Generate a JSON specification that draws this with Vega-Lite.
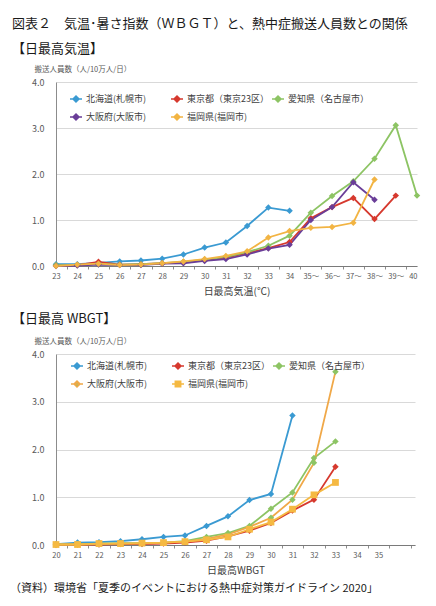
{
  "$schema": "https://vega.github.io/schema/vega-lite/v6.json",
  "padding": {"left": 10, "top": 18, "right": 5, "bottom": 5},
  "bounds": "flush",
  "spacing": 88,
  "title": {
    "text": "（資料）環境省「夏季のイベントにおける熱中症対策ガイドライン 2020」",
    "orient": "bottom",
    "anchor": "start",
    "frame": "group",
    "dx": -46,
    "fontSize": 11,
    "offset": 7
  },
  "datasets": {
    "top": [
      {"s": "北海道(札幌市)", "t": 23, "v": 0.04}, {"s": "北海道(札幌市)", "t": 24, "v": 0.04},
      {"s": "北海道(札幌市)", "t": 25, "v": 0.07}, {"s": "北海道(札幌市)", "t": 26, "v": 0.10},
      {"s": "北海道(札幌市)", "t": 27, "v": 0.12}, {"s": "北海道(札幌市)", "t": 28, "v": 0.16},
      {"s": "北海道(札幌市)", "t": 29, "v": 0.25}, {"s": "北海道(札幌市)", "t": 30, "v": 0.40},
      {"s": "北海道(札幌市)", "t": 31, "v": 0.51}, {"s": "北海道(札幌市)", "t": 32, "v": 0.87},
      {"s": "北海道(札幌市)", "t": 33, "v": 1.27}, {"s": "北海道(札幌市)", "t": 34, "v": 1.20},
      {"s": "東京都（東京23区）", "t": 23, "v": 0.01}, {"s": "東京都（東京23区）", "t": 24, "v": 0.02},
      {"s": "東京都（東京23区）", "t": 25, "v": 0.09}, {"s": "東京都（東京23区）", "t": 26, "v": 0.03},
      {"s": "東京都（東京23区）", "t": 27, "v": 0.04}, {"s": "東京都（東京23区）", "t": 28, "v": 0.06},
      {"s": "東京都（東京23区）", "t": 29, "v": 0.08}, {"s": "東京都（東京23区）", "t": 30, "v": 0.13},
      {"s": "東京都（東京23区）", "t": 31, "v": 0.18}, {"s": "東京都（東京23区）", "t": 32, "v": 0.28},
      {"s": "東京都（東京23区）", "t": 33, "v": 0.39}, {"s": "東京都（東京23区）", "t": 34, "v": 0.52},
      {"s": "東京都（東京23区）", "t": 35, "v": 1.04}, {"s": "東京都（東京23区）", "t": 36, "v": 1.28},
      {"s": "東京都（東京23区）", "t": 37, "v": 1.48}, {"s": "東京都（東京23区）", "t": 38, "v": 1.02},
      {"s": "東京都（東京23区）", "t": 39, "v": 1.53},
      {"s": "愛知県（名古屋市）", "t": 23, "v": 0.02}, {"s": "愛知県（名古屋市）", "t": 24, "v": 0.02},
      {"s": "愛知県（名古屋市）", "t": 25, "v": 0.04}, {"s": "愛知県（名古屋市）", "t": 26, "v": 0.03},
      {"s": "愛知県（名古屋市）", "t": 27, "v": 0.04}, {"s": "愛知県（名古屋市）", "t": 28, "v": 0.06},
      {"s": "愛知県（名古屋市）", "t": 29, "v": 0.09}, {"s": "愛知県（名古屋市）", "t": 30, "v": 0.14},
      {"s": "愛知県（名古屋市）", "t": 31, "v": 0.20}, {"s": "愛知県（名古屋市）", "t": 32, "v": 0.30},
      {"s": "愛知県（名古屋市）", "t": 33, "v": 0.44}, {"s": "愛知県（名古屋市）", "t": 34, "v": 0.66},
      {"s": "愛知県（名古屋市）", "t": 35, "v": 1.16}, {"s": "愛知県（名古屋市）", "t": 36, "v": 1.52},
      {"s": "愛知県（名古屋市）", "t": 37, "v": 1.84}, {"s": "愛知県（名古屋市）", "t": 38, "v": 2.33},
      {"s": "愛知県（名古屋市）", "t": 39, "v": 3.06}, {"s": "愛知県（名古屋市）", "t": 40, "v": 1.53},
      {"s": "大阪府(大阪市)", "t": 23, "v": 0.00}, {"s": "大阪府(大阪市)", "t": 24, "v": 0.01},
      {"s": "大阪府(大阪市)", "t": 25, "v": 0.03}, {"s": "大阪府(大阪市)", "t": 26, "v": 0.02},
      {"s": "大阪府(大阪市)", "t": 27, "v": 0.02}, {"s": "大阪府(大阪市)", "t": 28, "v": 0.05},
      {"s": "大阪府(大阪市)", "t": 29, "v": 0.06}, {"s": "大阪府(大阪市)", "t": 30, "v": 0.11},
      {"s": "大阪府(大阪市)", "t": 31, "v": 0.15}, {"s": "大阪府(大阪市)", "t": 32, "v": 0.25},
      {"s": "大阪府(大阪市)", "t": 33, "v": 0.38}, {"s": "大阪府(大阪市)", "t": 34, "v": 0.46},
      {"s": "大阪府(大阪市)", "t": 35, "v": 1.00}, {"s": "大阪府(大阪市)", "t": 36, "v": 1.28},
      {"s": "大阪府(大阪市)", "t": 37, "v": 1.82}, {"s": "大阪府(大阪市)", "t": 38, "v": 1.44},
      {"s": "福岡県(福岡市)", "t": 23, "v": 0.00}, {"s": "福岡県(福岡市)", "t": 24, "v": 0.03},
      {"s": "福岡県(福岡市)", "t": 25, "v": 0.05}, {"s": "福岡県(福岡市)", "t": 26, "v": 0.02},
      {"s": "福岡県(福岡市)", "t": 27, "v": 0.03}, {"s": "福岡県(福岡市)", "t": 28, "v": 0.06},
      {"s": "福岡県(福岡市)", "t": 29, "v": 0.10}, {"s": "福岡県(福岡市)", "t": 30, "v": 0.15},
      {"s": "福岡県(福岡市)", "t": 31, "v": 0.22}, {"s": "福岡県(福岡市)", "t": 32, "v": 0.32},
      {"s": "福岡県(福岡市)", "t": 33, "v": 0.62}, {"s": "福岡県(福岡市)", "t": 34, "v": 0.76},
      {"s": "福岡県(福岡市)", "t": 35, "v": 0.83}, {"s": "福岡県(福岡市)", "t": 36, "v": 0.85},
      {"s": "福岡県(福岡市)", "t": 37, "v": 0.94}, {"s": "福岡県(福岡市)", "t": 38, "v": 1.88}
    ],
    "bottom": [
      {"s": "北海道(札幌市)", "t": 20, "v": 0.02}, {"s": "北海道(札幌市)", "t": 21, "v": 0.05},
      {"s": "北海道(札幌市)", "t": 22, "v": 0.06}, {"s": "北海道(札幌市)", "t": 23, "v": 0.08},
      {"s": "北海道(札幌市)", "t": 24, "v": 0.12}, {"s": "北海道(札幌市)", "t": 25, "v": 0.17},
      {"s": "北海道(札幌市)", "t": 26, "v": 0.20}, {"s": "北海道(札幌市)", "t": 27, "v": 0.40},
      {"s": "北海道(札幌市)", "t": 28, "v": 0.60}, {"s": "北海道(札幌市)", "t": 29, "v": 0.94},
      {"s": "北海道(札幌市)", "t": 30, "v": 1.07}, {"s": "北海道(札幌市)", "t": 31, "v": 2.71},
      {"s": "東京都（東京23区）", "t": 20, "v": 0.00}, {"s": "東京都（東京23区）", "t": 21, "v": 0.01},
      {"s": "東京都（東京23区）", "t": 22, "v": 0.01}, {"s": "東京都（東京23区）", "t": 23, "v": 0.02},
      {"s": "東京都（東京23区）", "t": 24, "v": 0.02}, {"s": "東京都（東京23区）", "t": 25, "v": 0.03},
      {"s": "東京都（東京23区）", "t": 26, "v": 0.05}, {"s": "東京都（東京23区）", "t": 27, "v": 0.09},
      {"s": "東京都（東京23区）", "t": 28, "v": 0.18}, {"s": "東京都（東京23区）", "t": 29, "v": 0.30},
      {"s": "東京都（東京23区）", "t": 30, "v": 0.46}, {"s": "東京都（東京23区）", "t": 31, "v": 0.72},
      {"s": "東京都（東京23区）", "t": 32, "v": 0.95}, {"s": "東京都（東京23区）", "t": 33, "v": 1.64},
      {"s": "愛知県（名古屋市）", "t": 20, "v": 0.01}, {"s": "愛知県（名古屋市）", "t": 21, "v": 0.02},
      {"s": "愛知県（名古屋市）", "t": 22, "v": 0.03}, {"s": "愛知県（名古屋市）", "t": 23, "v": 0.04},
      {"s": "愛知県（名古屋市）", "t": 24, "v": 0.04}, {"s": "愛知県（名古屋市）", "t": 25, "v": 0.05},
      {"s": "愛知県（名古屋市）", "t": 26, "v": 0.08}, {"s": "愛知県（名古屋市）", "t": 27, "v": 0.17},
      {"s": "愛知県（名古屋市）", "t": 28, "v": 0.25}, {"s": "愛知県（名古屋市）", "t": 29, "v": 0.40},
      {"s": "愛知県（名古屋市）", "t": 30, "v": 0.76}, {"s": "愛知県（名古屋市）", "t": 31, "v": 1.10},
      {"s": "愛知県（名古屋市）", "t": 32, "v": 1.82}, {"s": "愛知県（名古屋市）", "t": 33, "v": 2.17},
      {"s": "大阪府(大阪市)", "t": 20, "v": 0.01}, {"s": "大阪府(大阪市)", "t": 21, "v": 0.01},
      {"s": "大阪府(大阪市)", "t": 22, "v": 0.02}, {"s": "大阪府(大阪市)", "t": 23, "v": 0.03},
      {"s": "大阪府(大阪市)", "t": 24, "v": 0.03}, {"s": "大阪府(大阪市)", "t": 25, "v": 0.05},
      {"s": "大阪府(大阪市)", "t": 26, "v": 0.07}, {"s": "大阪府(大阪市)", "t": 27, "v": 0.13},
      {"s": "大阪府(大阪市)", "t": 28, "v": 0.22}, {"s": "大阪府(大阪市)", "t": 29, "v": 0.38},
      {"s": "大阪府(大阪市)", "t": 30, "v": 0.57}, {"s": "大阪府(大阪市)", "t": 31, "v": 0.95},
      {"s": "大阪府(大阪市)", "t": 32, "v": 1.72}, {"s": "大阪府(大阪市)", "t": 33, "v": 3.63},
      {"s": "福岡県(福岡市)", "t": 20, "v": 0.01}, {"s": "福岡県(福岡市)", "t": 21, "v": 0.01},
      {"s": "福岡県(福岡市)", "t": 22, "v": 0.03}, {"s": "福岡県(福岡市)", "t": 23, "v": 0.03},
      {"s": "福岡県(福岡市)", "t": 24, "v": 0.04}, {"s": "福岡県(福岡市)", "t": 25, "v": 0.05},
      {"s": "福岡県(福岡市)", "t": 26, "v": 0.07}, {"s": "福岡県(福岡市)", "t": 27, "v": 0.11},
      {"s": "福岡県(福岡市)", "t": 28, "v": 0.17}, {"s": "福岡県(福岡市)", "t": 29, "v": 0.33},
      {"s": "福岡県(福岡市)", "t": 30, "v": 0.48}, {"s": "福岡県(福岡市)", "t": 31, "v": 0.75},
      {"s": "福岡県(福岡市)", "t": 32, "v": 1.05}, {"s": "福岡県(福岡市)", "t": 33, "v": 1.31}
    ]
  },
  "resolve": {
    "scale": {"stroke": "independent", "fill": "independent", "shape": "independent"},
    "legend": {"stroke": "independent", "fill": "independent", "shape": "independent"}
  },
  "vconcat": [
    {
      "title": {
        "text": "図表２　気温･暑さ指数（ＷＢＧＴ）と、熱中症搬送人員数との関係",
        "subtitle": "【日最高気温】",
        "dx": -44,
        "subtitleFontSize": 13,
        "subtitleColor": "#1a1a1a",
        "subtitlePadding": 12,
        "offset": 9
      },
      "width": 361,
      "height": 184,
      "data": {"name": "top"},
      "encoding": {
        "x": {
          "field": "t",
          "type": "quantitative",
          "scale": {"domain": [23, 40], "nice": false, "zero": false},
          "axis": {
            "title": "日最高気温(℃)",
            "values": [23, 23.5, 24, 24.5, 25, 25.5, 26, 26.5, 27, 27.5, 28, 28.5, 29, 29.5, 30, 30.5, 31, 31.5, 32, 32.5, 33, 33.5, 34, 34.5, 35, 35.5, 36, 36.5, 37, 37.5, 38, 38.5, 39, 39.5, 40],
            "labelExpr": "datum.value % 1 != 0 ? '' : (datum.value >= 35 && datum.value <= 39 ? datum.value + '～' : '' + datum.value)",
            "tickOpacity": {"condition": {"test": "datum.value % 1 == 0", "value": 0}, "value": 1},
            "labelAlign": {"condition": {"test": "datum.value == 40", "value": "right"}, "value": "center"}
          }
        },
        "y": {
          "field": "v",
          "type": "quantitative",
          "scale": {"domain": [0, 4], "nice": false},
          "axis": {"title": "搬送人員数（人/10万人/日）"}
        }
      },
      "layer": [
        {
          "transform": [{"filter": "false"}],
          "mark": {"type": "point", "filled": true, "opacity": 1},
          "encoding": {
            "stroke": {
              "field": "s",
              "type": "nominal",
              "scale": {
                "domain": ["北海道(札幌市)", "東京都（東京23区）", "愛知県（名古屋市）", "大阪府(大阪市)", "福岡県(福岡市)"],
                "range": ["#3a9ad2", "#d6392e", "#8dc464", "#6a3e98", "#f2b443"]
              },
              "legend": {"orient": "none", "legendX": 13, "legendY": 10}
            },
            "fill": {
              "field": "s",
              "type": "nominal",
              "scale": {
                "domain": ["北海道(札幌市)", "東京都（東京23区）", "愛知県（名古屋市）", "大阪府(大阪市)", "福岡県(福岡市)"],
                "range": ["#3a9ad2", "#d6392e", "#8dc464", "#6a3e98", "#f2b443"]
              },
              "legend": {"orient": "none", "legendX": 13, "legendY": 10}
            },
            "shape": {
              "field": "s",
              "type": "nominal",
              "scale": {
                "domain": ["北海道(札幌市)", "東京都（東京23区）", "愛知県（名古屋市）", "大阪府(大阪市)", "福岡県(福岡市)"],
                "range": [
                  "M-1,0L1,0M0,-0.5L0.5,0L0,0.5L-0.5,0Z",
                  "M-1,0L1,0M0,-0.5L0.5,0L0,0.5L-0.5,0Z",
                  "M-1,0L1,0M0,-0.5L0.5,0L0,0.5L-0.5,0Z",
                  "M-1,0L1,0M0,-0.5L0.5,0L0,0.5L-0.5,0Z",
                  "M-1,0L1,0M0,-0.5L0.5,0L0,0.5L-0.5,0Z"
                ]
              },
              "legend": {"orient": "none", "legendX": 13, "legendY": 10}
            }
          }
        },
        {
          "mark": {"type": "line", "strokeWidth": 1.8},
          "encoding": {
            "stroke": {
              "field": "s",
              "type": "nominal",
              "scale": {
                "domain": ["北海道(札幌市)", "東京都（東京23区）", "愛知県（名古屋市）", "大阪府(大阪市)", "福岡県(福岡市)"],
                "range": ["#3a9ad2", "#d6392e", "#8dc464", "#6a3e98", "#f2b443"]
              },
              "legend": null
            }
          }
        },
        {
          "mark": {"type": "point", "filled": true, "shape": "diamond", "size": 42, "opacity": 1},
          "encoding": {
            "fill": {
              "field": "s",
              "type": "nominal",
              "scale": {
                "domain": ["北海道(札幌市)", "東京都（東京23区）", "愛知県（名古屋市）", "大阪府(大阪市)", "福岡県(福岡市)"],
                "range": ["#3a9ad2", "#d6392e", "#8dc464", "#6a3e98", "#f2b443"]
              },
              "legend": null
            }
          }
        }
      ]
    },
    {
      "title": {"text": "【日最高 WBGT】", "dx": -44, "offset": 11},
      "width": 359,
      "height": 191,
      "data": {"name": "bottom"},
      "encoding": {
        "x": {
          "field": "t",
          "type": "quantitative",
          "scale": {"domain": [20, 36.7], "nice": false, "zero": false},
          "axis": {
            "title": "日最高WBGT",
            "values": [20, 20.5, 21, 21.5, 22, 22.5, 23, 23.5, 24, 24.5, 25, 25.5, 26, 26.5, 27, 27.5, 28, 28.5, 29, 29.5, 30, 30.5, 31, 31.5, 32, 32.5, 33, 33.5, 34, 34.5, 35, 35.5, 36, 36.5],
            "labelExpr": "datum.value % 1 != 0 || datum.value > 35 ? '' : '' + datum.value",
            "tickOpacity": {"condition": {"test": "datum.value % 1 == 0", "value": 0}, "value": 1}
          }
        },
        "y": {
          "field": "v",
          "type": "quantitative",
          "scale": {"domain": [0, 4], "nice": false},
          "axis": {"title": "搬送人員数（人/10万人/日）"}
        }
      },
      "layer": [
        {
          "transform": [{"filter": "false"}],
          "mark": {"type": "point", "filled": true, "opacity": 1},
          "encoding": {
            "stroke": {
              "field": "s",
              "type": "nominal",
              "scale": {
                "domain": ["北海道(札幌市)", "東京都（東京23区）", "愛知県（名古屋市）", "大阪府(大阪市)", "福岡県(福岡市)"],
                "range": ["#3a9ad2", "#d6392e", "#8dc464", "#f0a848", "#f5b942"]
              },
              "legend": {"orient": "none", "legendX": 14, "legendY": 5}
            },
            "fill": {
              "field": "s",
              "type": "nominal",
              "scale": {
                "domain": ["北海道(札幌市)", "東京都（東京23区）", "愛知県（名古屋市）", "大阪府(大阪市)", "福岡県(福岡市)"],
                "range": ["#3a9ad2", "#d6392e", "#8dc464", "#8dc464", "#f5b942"]
              },
              "legend": {"orient": "none", "legendX": 14, "legendY": 5}
            },
            "shape": {
              "field": "s",
              "type": "nominal",
              "scale": {
                "domain": ["北海道(札幌市)", "東京都（東京23区）", "愛知県（名古屋市）", "大阪府(大阪市)", "福岡県(福岡市)"],
                "range": [
                  "M-1,0L1,0M0,-0.5L0.5,0L0,0.5L-0.5,0Z",
                  "M-1,0L1,0M0,-0.5L0.5,0L0,0.5L-0.5,0Z",
                  "M-1,0L1,0M0,-0.5L0.5,0L0,0.5L-0.5,0Z",
                  "M-1,0L1,0M0,-0.5L0.5,0L0,0.5L-0.5,0Z",
                  "M-1,0L1,0M-0.45,-0.45L0.45,-0.45L0.45,0.45L-0.45,0.45Z"
                ]
              },
              "legend": {"orient": "none", "legendX": 14, "legendY": 5}
            }
          }
        },
        {
          "mark": {"type": "line", "strokeWidth": 1.8},
          "encoding": {
            "stroke": {
              "field": "s",
              "type": "nominal",
              "scale": {
                "domain": ["北海道(札幌市)", "東京都（東京23区）", "愛知県（名古屋市）", "大阪府(大阪市)", "福岡県(福岡市)"],
                "range": ["#3a9ad2", "#d6392e", "#8dc464", "#f0a848", "#f5b942"]
              },
              "legend": null
            }
          }
        },
        {
          "transform": [{"filter": "datum.s != '福岡県(福岡市)'"}],
          "mark": {"type": "point", "filled": true, "shape": "diamond", "size": 42, "opacity": 1},
          "encoding": {
            "fill": {
              "field": "s",
              "type": "nominal",
              "scale": {
                "domain": ["北海道(札幌市)", "東京都（東京23区）", "愛知県（名古屋市）", "大阪府(大阪市)", "福岡県(福岡市)"],
                "range": ["#3a9ad2", "#d6392e", "#8dc464", "#8dc464", "#f5b942"]
              },
              "legend": null
            }
          }
        },
        {
          "transform": [{"filter": "datum.s == '福岡県(福岡市)'"}],
          "mark": {"type": "point", "filled": true, "shape": "square", "size": 46, "opacity": 1},
          "encoding": {
            "fill": {
              "field": "s",
              "type": "nominal",
              "scale": {
                "domain": ["北海道(札幌市)", "東京都（東京23区）", "愛知県（名古屋市）", "大阪府(大阪市)", "福岡県(福岡市)"],
                "range": ["#3a9ad2", "#d6392e", "#8dc464", "#8dc464", "#f5b942"]
              },
              "legend": null
            }
          }
        }
      ]
    }
  ],
  "config": {
    "font": "Noto Sans CJK JP",
    "background": "white",
    "view": {"stroke": null},
    "title": {"fontSize": 13, "fontWeight": "normal", "color": "#1a1a1a", "anchor": "start", "frame": "group"},
    "axisX": {
      "grid": false,
      "labelFontSize": 7.5,
      "labelColor": "#595959",
      "labelPadding": 3,
      "labelFlush": false,
      "labelOverlap": false,
      "tickSize": 3,
      "tickColor": "#8c8c8c",
      "domainColor": "#7a7a7a",
      "titleFontSize": 10,
      "titleFontWeight": "normal",
      "titleColor": "#404040",
      "titlePadding": 7
    },
    "axisY": {
      "values": [0, 1, 2, 3, 4],
      "format": ".1f",
      "ticks": false,
      "labelPadding": 12,
      "labelFontSize": 9,
      "labelColor": "#595959",
      "gridColor": "#d9d9d9",
      "domainColor": "#8c8c8c",
      "titleAngle": 0,
      "titleAlign": "left",
      "titleBaseline": "middle",
      "titleX": -22,
      "titleY": -13,
      "titleFontSize": 7.5,
      "titleFontWeight": "normal",
      "titleColor": "#595959"
    },
    "legend": {
      "title": null,
      "direction": "horizontal",
      "columns": 3,
      "gridAlign": "all",
      "columnPadding": 0,
      "rowPadding": 5,
      "padding": 0,
      "labelFontSize": 9,
      "labelColor": "#404040",
      "labelOffset": 3,
      "symbolSize": 144,
      "symbolStrokeWidth": 1.5
    }
  }
}
